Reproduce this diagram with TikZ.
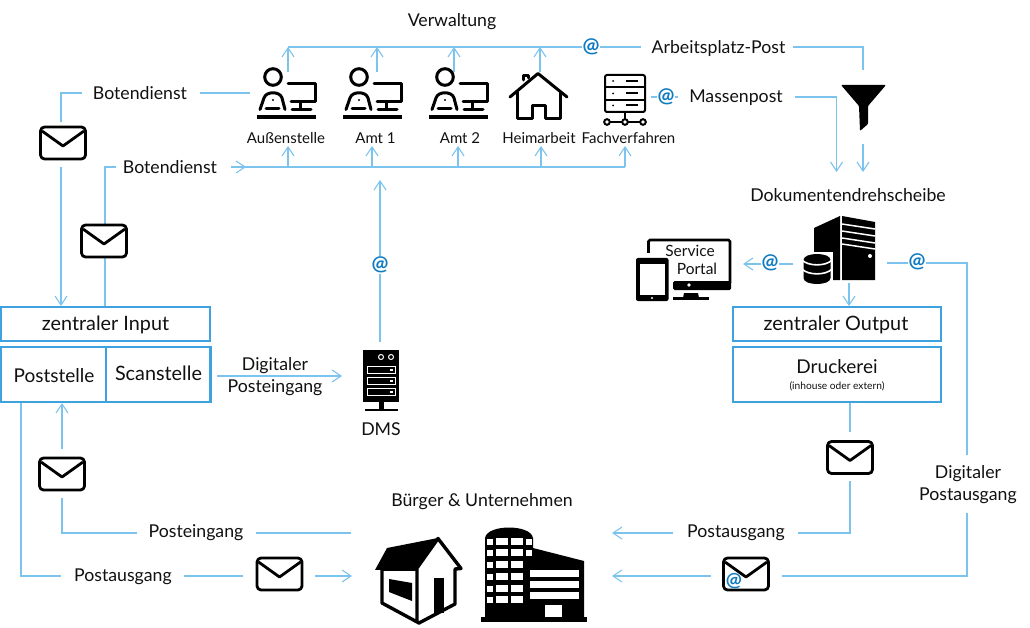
\documentclass[tikz,border=0pt]{standalone}
\usepackage{fontspec}
\setmainfont{Lato}
\usetikzlibrary{arrows.meta,calc}
\definecolor{flowc}{HTML}{7CC3EE}
\definecolor{boxc}{HTML}{3DA2DE}
\definecolor{atc}{HTML}{0F7BC0}
\definecolor{ink}{HTML}{111111}
\newcommand{\personicon}[1]{%
  \begin{scope}[shift={(#1,117)},line width=3pt,black,line cap=round,line join=round]
    \draw (16,-40) circle (8.3);
    \draw (3,-7.5) -- (7,-19) .. controls (9,-26) and (23,-26) .. (25,-19) -- (28,-7.5);
    \draw (9,-8) -- (22,-8);
    \fill (16,-17) circle (1.2);
    \draw (31,-33) -- (58,-33) -- (58,-15) -- (34,-15);
    \draw (43.5,-14) -- (43.5,-7.5);
    \draw (35,-7.5) -- (54,-7.5);
    \draw[line width=3.2pt,line cap=butt] (0,0) -- (59,0);
  \end{scope}}
\newcommand{\mailicon}[2]{%
  \begin{scope}[shift={(#1,#2)},line width=2.8pt,black,line join=round]
    \draw[rounded corners=4pt,fill=white] (-22.5,-16) rectangle (22.5,16);
    \draw (-21,-12) -- (0,3) -- (21,-12);
  \end{scope}}
\tikzset{
  x=1pt,y=-1pt,
  flow/.style={draw=flowc,line width=1.1pt},
  arr/.style={flow,-{Straight Barb[length=9pt,width=12pt,line width=1.1pt]}},
  lab/.style={font=\fontsize{17.7}{21}\selectfont,text=ink,inner sep=0pt,align=center},
  small/.style={font=\fontsize{15}{17}\selectfont,text=ink,inner sep=0pt,align=center},
  atsign/.style={font=\fontsize{20}{22}\selectfont\bfseries,text=atc,fill=white,inner sep=0.5pt},
  bluebox/.style={draw=boxc,line width=2.4pt,fill=white,inner sep=0pt},
}
\begin{document}
\begin{tikzpicture}
\useasboundingbox (0,0) rectangle (1030,628);
\fill[white] (0,0) rectangle (1030,628);

% labels
\node[lab] (verw) at (452,21.5) {Verwaltung};
\node[lab] (apost) at (718.5,49) {Arbeitsplatz-Post};
\node[lab] (mass) at (736,98) {Massenpost};
\node[lab] (dreh) at (848,195) {Dokumentendrehscheibe};
\node[lab] (bot1) at (140,93.5) {Botendienst};
\node[lab] (bot2) at (170,167.5) {Botendienst};
\node[lab] (dig1) at (275,376.5) {Digitaler\\[1pt]Posteingang};
\node[lab] (dms) at (381,429) {DMS};
\node[lab] (buerger) at (482,501.5) {Bürger \& Unternehmen};
\node[lab] (pein) at (196,532.5) {Posteingang};
\node[lab] (paus1) at (123,576.5) {Postausgang};
\node[lab] (paus2) at (736,532.5) {Postausgang};
\node[lab] (digaus) at (968,484.5) {Digitaler\\[1pt]Postausgang};
\node[small] (l1) at (286,138) {Außenstelle};
\node[small] (l2) at (375.5,138) {Amt 1};
\node[small] (l3) at (460,138) {Amt 2};
\node[small] (l4) at (539,138) {Heimarbeit};
\node[small] (l5) at (628.5,138) {Fachverfahren};

% boxes
\node[bluebox,minimum width=209pt,minimum height=34pt] (zin) at (105.5,324) {};
\node[bluebox,minimum width=105pt,minimum height=55pt] (post) at (53.5,374.5) {};
\node[bluebox,minimum width=104.5pt,minimum height=55pt] (scan) at (158.2,374.5) {};
\node[bluebox,minimum width=208pt,minimum height=34pt] (zout) at (837,324) {};
\node[bluebox,minimum width=208pt,minimum height=55pt] (druck) at (837,374.5) {};
\node[lab,font=\fontsize{19.8}{22}\selectfont] at (105.5,325) {zentraler Input};
\node[lab,font=\fontsize{19}{22}\selectfont] at (54,375.5) {Poststelle};
\node[lab,font=\fontsize{19.8}{22}\selectfont] at (158.5,373) {Scanstelle};
\node[lab,font=\fontsize{19.8}{22}\selectfont] at (836,325) {zentraler Output};
\node[lab,font=\fontsize{19}{22}\selectfont] (dt) at (837,367) {Druckerei};
\node[lab,font=\fontsize{10.2}{11}\selectfont] (dt2) at (837,386) {(inhouse oder extern)};

% free ends of connectors
\coordinate (t0) at (288,47); \coordinate (t1) at (377,47); \coordinate (t2) at (454,47);
\coordinate (t3) at (540,47); \coordinate (t4) at (641,47);
\coordinate (b0) at (288,167); \coordinate (b1) at (372,167); \coordinate (b2) at (458,167);
\coordinate (b3) at (541,167); \coordinate (b4) at (625,167);

% Verwaltung, top
\draw[flow] (t0) -- (t4);
\draw[flow] (793,47) -- (863,47) -- (863,70);
\foreach \c in {t0,t1,t2,t3} \draw[arr] (\c |- 0,72) -- (\c);
\foreach \c in {b0,b1,b2,b3,b4} \draw[arr] (\c) -- (\c |- 0,146);
\draw[flow] (231,167) -- (b4);
\draw[arr] (231,167) -- (246,167);
\node[atsign] (at1) at (591,47) {@};

% Massenpost
\draw[flow] (651,97) -- (678,97);
\node[atsign] (at2) at (666,97) {@};
\draw[arr] (795,97) -- (836.5,97) -- (836.5,172);
\draw[arr] (863,144) -- (863,172);

% Dokumentendrehscheibe
\draw[arr] (849,283) -- (849,306);
\draw[arr] (793,264) -- (743,264);
\node[atsign] (at3) at (770,263) {@};
\draw[flow] (887,263) -- (967,263) -- (967,455);
\draw[flow] (967,513) -- (967,576) -- (782,576);
\node[atsign] (at4) at (917,262) {@};

% Druckerei to citizens
\draw[flow] (850,403) -- (850,432);
\draw[flow] (850,481) -- (850,533) -- (798,533);
\draw[arr] (673,533) -- (612,533);
\draw[arr] (711,576) -- (612,576);

% left side
\draw[flow] (200,93) -- (250,93);
\draw[flow] (82,93) -- (61,93) -- (61,122);
\draw[arr] (61,167) -- (61,306);
\draw[flow] (105,306) -- (105,167) -- (116,167);
\draw[arr] (380,342) -- (380,180);
\node[atsign] (at5) at (380,265) {@};
\draw[arr] (217,376) -- (342,376);

\draw[flow] (21,403) -- (21,576) -- (61,576);
\draw[flow] (184,576) -- (243,576);
\draw[arr] (315,576) -- (352,576);
\draw[arr] (62,449) -- (62,403);
\draw[flow] (62,498) -- (62,533) -- (137,533);
\draw[flow] (256,533) -- (351,533);

% envelopes
\mailicon{63}{143}
\mailicon{104}{241}
\mailicon{62}{474}
\mailicon{279.5}{574}
\mailicon{850}{457.5}
\mailicon{746}{574}
\node[font=\fontsize{19}{20}\selectfont\bfseries,text=atc,inner sep=0pt] (at6) at (734,581) {@};

% persons
\personicon{257}
\personicon{343}
\personicon{429}

% home
\begin{scope}[line width=3pt,black,line join=round,line cap=round]
  \draw (510,97) -- (538,73.5) -- (567,97);
  \draw (523,80) -- (523,76) -- (528,76) -- (528,78);
  \draw (517,92) -- (517,119) -- (532,119) -- (532,106) -- (545,106) -- (545,119) -- (560,119) -- (560,92);
\end{scope}

% Fachverfahren server
\begin{scope}[line width=2pt,black]
  \draw[rounded corners=2pt] (605,75) rectangle (645,112);
  \draw (605,87.3) -- (645,87.3) (605,99.6) -- (645,99.6);
  \foreach \y in {81,93.5,105.5} {
    \fill (613,\y) circle (1);
    \draw (626,\y) -- (638,\y);
  }
  \draw (625,112) -- (625,122);
  \draw (607,122) -- (643,122);
  \foreach \x in {607,625,643} \draw[fill=white] (\x,122) circle (2.8);
\end{scope}

% funnel
\fill[black,rounded corners=1pt] (841,85) -- (886,85) -- (868,106) -- (868,124) -- (860,131) -- (859,106) -- cycle;

% data centre server
\fill[black] (814,228) -- (840,216) -- (840,280) -- (814,280) -- cycle;
\fill[black] (842,216) -- (875,222) -- (875,280) -- (842,280) -- cycle;
\foreach \y in {224,231,238,244} \draw[white,line width=1.5pt] (842,\y) -- (875,\y+5);
\fill[white] (870,256) circle (2);
% data base: three stacked disks with a white halo
\fill[white] (801,252) rectangle (833,286);
\fill[black] (803.5,260) .. controls (803.5,252) and (830.5,252) .. (830.5,260)
  -- (830.5,278) .. controls (830.5,286) and (803.5,286) .. (803.5,278) -- cycle;
\draw[white,line width=1.6pt] (802,260) .. controls (808,266.5) and (826,266.5) .. (832,260);
\draw[white,line width=1.6pt] (802,269) .. controls (808,275.5) and (826,275.5) .. (832,269);

% service portal
\begin{scope}[black,line join=round]
  \draw[line width=2.8pt,rounded corners=1.5pt] (648.5,253) -- (648.5,240) -- (730,240) -- (730,283);
  \fill[rounded corners=1.5pt] (673,281) rectangle (731,290);
  \fill[white] (689,285) circle (1.8);
  \fill (683,298) -- (684,293) -- (698,293) -- (699,298) -- cycle;
  \fill (673,296.5) rectangle (709,300);
  \fill[rounded corners=2pt] (636,258) rectangle (668.5,301);
  \fill[white] (639.5,264) rectangle (665,294.5);
  \fill[white] (652,298) circle (1.2);
\end{scope}
\node[small,font=\fontsize{15.5}{17}\selectfont] (sv) at (690,251) {Service};
\node[small,font=\fontsize{15.5}{17}\selectfont] (pt) at (697,269) {Portal};

% DMS
\fill[black] (363,350) rectangle (399,402);
\foreach \x in {381,391} \draw[white,line width=1pt] (\x,357) circle (2.5);
\foreach \y in {366,377,388} {
  \draw[white,line width=1pt] (367,\y) rectangle (395,\y+7);
  \fill[white] (390,\y+2.5) rectangle (393,\y+4.5);
}
\fill[black] (379,402) rectangle (384,409);
\fill[black] (365,408.5) rectangle (398,411);

% citizen's house
\begin{scope}[black,line join=round]
  \fill (375,570) -- (387,548) -- (438,538) -- (417,569) -- cycle;
  \draw[line width=3.4pt,fill=white] (382,569) -- (382,603) -- (419,623) -- (455,604) -- (455,569) -- (461,568.5) -- (438,538.5) -- (417,568) -- (417,621);
  \draw[line width=3.4pt] (382,569) -- (417,569);
  \fill (389,579) -- (412,583) -- (412,601) -- (389,592) -- cycle;
  \fill (434,578) rectangle (444,613);
\end{scope}

% office building
\begin{scope}[black]
  \fill (485,613) -- (485,538) .. controls (487,524) and (531,524) .. (533,538) -- (533,548) -- (584,561) -- (584,618) -- (485,618) -- cycle;
  \fill (481,617) rectangle (587,622);
  \foreach \y/\d in {538/0,549/1,561/2,573/3,585/4,596/5} {
    \fill[white] (487,\y+1) rectangle (492.5,\y+7);
    \fill[white] (496,\y) rectangle (508,\y+7);
    \fill[white] (511,\y) rectangle (523,\y+7);
    \ifnum\d<2 \fill[white] (526,\y+1) rectangle (532,\y+7);\fi
  }
  \foreach \y in {570,581,592} \fill[white] (530,\y) rectangle (579,\y+6.5);
  \fill[white] (544.5,605) rectangle (562,617);
\end{scope}
\end{tikzpicture}
\end{document}
